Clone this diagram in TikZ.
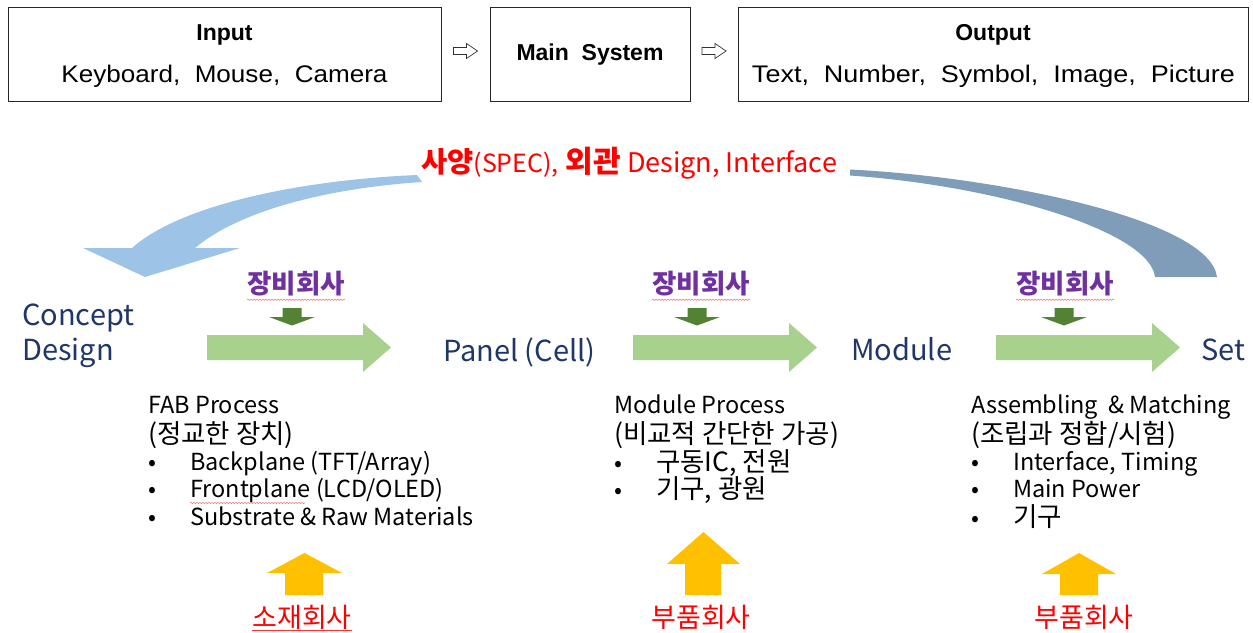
\documentclass[tikz,border=0pt]{standalone}
\usepackage{fontspec}
\usepackage{graphicx}
\setmainfont{Liberation Sans}
\newfontfamily\krf{Noto Sans CJK KR}
\usetikzlibrary{calc,decorations.pathmorphing}
\definecolor{navy}{HTML}{1F3668}
\definecolor{lgreen}{HTML}{A9D18E}
\definecolor{dgreen}{HTML}{548235}
\definecolor{purp}{HTML}{7030A0}
\definecolor{yel}{HTML}{FFC000}
\definecolor{lblue}{HTML}{9DC3E6}
\definecolor{steel}{HTML}{7F9CB9}
\definecolor{squig}{HTML}{F08080}
\tikzset{
  topbox/.style={draw=black!85, line width=0.9pt, inner sep=0},
  tophead/.style={font=\fontsize{23}{26}\selectfont\bfseries, inner sep=0},
  toptxt/.style={font=\fontsize{24}{28}\selectfont, inner sep=0},
  hollow/.style={draw=black!80, line width=0.7pt, fill=white},
  stage/.style={font=\krf\fontsize{29}{32}\selectfont, text=navy, inner sep=0, anchor=base west},
  firm/.style={font=\krf\bfseries\fontsize{26.5}{28}\selectfont, text=purp, inner sep=0},
  supplier/.style={font=\krf\fontsize{27}{28}\selectfont, text=red, inner sep=0},
  body/.style={font=\krf\fontsize{23.5}{26}\selectfont, inner sep=0, anchor=base west},
  kbody/.style={body, font=\krf\fontsize{26.5}{28}\selectfont},
  flow/.style={fill=lgreen},
  push/.style={fill=dgreen},
  lift/.style={fill=yel},
  spell/.style={draw=squig, line width=0.6pt, decorate, decoration={snake, segment length=3pt, amplitude=0.7pt}}
}
\newcommand{\bul}{\makebox[42pt][l]{{\fontsize{23.5}{26}\selectfont\textbullet}}}
\begin{document}
\begin{tikzpicture}[x=1pt,y=-1pt]
\useasboundingbox (0,0) rectangle (1253,632);

% ---------- top boxes ----------
\node[topbox, minimum width=433pt, minimum height=94pt] (in) at (224.5,54) {};
\node[topbox, minimum width=200pt, minimum height=94pt] (ms) at (590,54) {};
\node[topbox, minimum width=510pt, minimum height=94pt] (out) at (993,54) {};
\node[tophead] (inT) at (224.5,35) {Input};
\node[toptxt] (inS) at (224.5,76) {\resizebox{326pt}{\height}{Keyboard,~~Mouse,~~Camera}};
\node[tophead] (msT) at (590,55) {Main~~System};
\node[tophead] (outT) at (993,35) {Output};
\node[toptxt] (outS) at (993.5,76) {\resizebox{483pt}{\height}{Text,~~Number,~~Symbol,~~Image,~~Picture}};
\coordinate (a1) at ($(in.east)!0.5!(ms.west)+(0,-3)$);
\coordinate (a2) at ($(ms.east)!0.5!(out.west)+(0,-3)$);
\foreach \c in {a1,a2}{
  \draw[hollow, shift={(\c)}] (-12,-3.5) -- (1,-3.5) -- (1,-7.5) -- (12,0) -- (1,7.5) -- (1,3.5) -- (-12,3.5) -- cycle;
}

% ---------- big curved arrows ----------
\fill[lblue] (417,175) .. controls (300,180) and (180,205) .. (132,248)
  -- (83,248) -- (145,277) -- (240,248) -- (195,248)
  .. controls (240,210) and (330,188) .. (422,182) -- cycle;
\fill[steel] (850,169.5) .. controls (1000,177) and (1210,220) .. (1217,277)
  -- (1155,277) .. controls (1150,232) and (1000,186) .. (850,175.5) -- cycle;

\node[anchor=base west, inner sep=0, text=red] (spec) at (421,172)
  {{\krf\bfseries\fontsize{28.5}{30}\selectfont 사양}{\krf\fontsize{25}{30}\selectfont (SPEC),\hspace{7pt}}{\krf\bfseries\fontsize{30}{30}\selectfont 외관}{\krf\fontsize{27}{30}\selectfont ~Design, Interface}};

% ---------- stages ----------
\node[stage] (concept) at (22,325) {Concept};
\node[stage] (design) at (22,360) {Design};
\node[stage] (panel) at (443,361) {Panel (Cell)};
\node[stage] (module) at (851,360) {Module};
\node[stage] (set) at (1201,360) {Set};

% green flow arrows
\foreach \x/\n in {207/f1,633/f2,996/f3}{
  \fill[flow] (\x,335) -- (\x+156,335) -- (\x+156,323) -- (\x+184,347.5) -- (\x+156,372) -- (\x+156,360) -- (\x,360) -- cycle;
}

% equipment companies
\foreach \x/\n in {296/e1,701/e2,1065/e3}{
  \node[firm] (\n) at (\x,284) {장비회사};
  \draw[spell] ($(\n.south west)+(0,3)$) -- ($(\n.south east)+(0,3)$);
}
\foreach \x in {292,697,1064}{
  \fill[push] (\x-9.5,308) -- (\x+9.5,308) -- (\x+9.5,317) -- (\x+23,317) -- (\x,325.5) -- (\x-23,317) -- (\x-9.5,317) -- cycle;
}

% ---------- process descriptions ----------
\node[body] (fab1) at (148,413) {FAB Process};
\node[kbody] (fab2) at (148,443) {(정교한 장치)};
\node[body] (fab3) at (148,470) {\bul Backplane (TFT/Array)};
\node[body] (fab4) at (148,497) {\bul Frontplane (LCD/OLED)};
\node[body] (fab5) at (148,525) {\bul Substrate \& Raw Materials};
\draw[spell] (190,503) -- (305,503);

\node[body] (mod1) at (614,413) {Module Process};
\node[kbody] (mod2) at (614,443) {(비교적 간단한 가공)};
\node[kbody] (mod3) at (614,471) {\bul 구동IC, 전원};
\node[kbody] (mod4) at (614,498) {\bul 기구, 광원};

\node[body] (asm1) at (971,413) {Assembling~ \& Matching};
\node[kbody] (asm2) at (971,443) {(조립과 정합/시험)};
\node[body] (asm3) at (971,470) {\bul Interface, Timing};
\node[body] (asm4) at (971,497) {\bul Main Power};
\node[kbody] (asm5) at (971,526) {\bul 기구};

% ---------- supplier arrows ----------
\fill[lift] (285,595) -- (285,573) -- (267,573) -- (304.5,553) -- (342,573) -- (323,573) -- (323,595) -- cycle;
\fill[lift] (685,595) -- (685,564) -- (667,564) -- (703.5,532) -- (740,564) -- (721,564) -- (721,595) -- cycle;
\fill[lift] (1060,595) -- (1060,574) -- (1042,574) -- (1079,553) -- (1116,574) -- (1098,574) -- (1098,595) -- cycle;

\node[supplier] (s1) at (302,617) {소재회사};
\draw[draw=red!80, line width=0.8pt] ($(s1.south west)+(0,1)$) -- ($(s1.south east)+(0,1)$);
\node[supplier] (s2) at (701,617) {부품회사};
\node[supplier] (s3) at (1084,617) {부품회사};
\end{tikzpicture}
\end{document}
